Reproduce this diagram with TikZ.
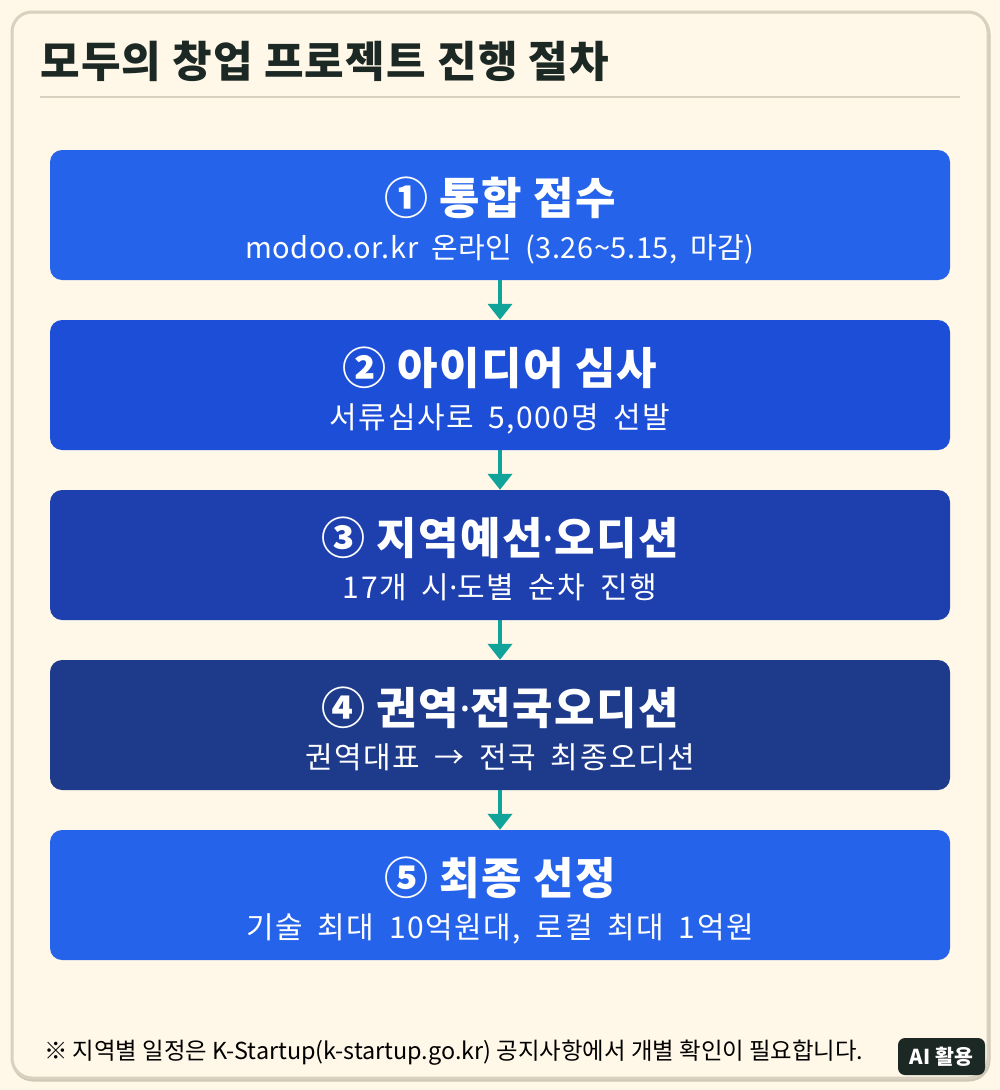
\documentclass[tikz,border=0pt]{standalone}
\usepackage{fontspec}
\setmainfont{Noto Sans CJK KR}
\newfontfamily\maintitlefont{Noto Sans CJK KR}[LetterSpace=3,WordSpace=0.8]
\newfontfamily\headfont{Noto Sans CJK KR}[LetterSpace=3,WordSpace=1.0]
\newfontfamily\subfont{Noto Sans CJK KR}[LetterSpace=5,WordSpace=1.8]
\newfontfamily\latinsubfont{Noto Sans CJK KR}[LetterSpace=2,WordSpace=1.8]
\newfontfamily\notefont{Noto Sans CJK KR}
\newfontfamily\dotfont{Noto Sans}
\newcommand{\ndot}{{\dotfont ·}}
\usetikzlibrary{arrows.meta}
\definecolor{bgc}{HTML}{FFF8E8}
\definecolor{framec}{HTML}{D9D0BF}
\definecolor{shadowc}{HTML}{CFC7B6}
\definecolor{titlec}{HTML}{1C2823}
\definecolor{bA}{HTML}{2563EB}
\definecolor{bB}{HTML}{1D4ED8}
\definecolor{bC}{HTML}{1E40AF}
\definecolor{bD}{HTML}{1E3A8A}
\definecolor{arrc}{HTML}{0FA39A}
\tikzset{
  stepbox/.style={rectangle, rounded corners=12pt, minimum width=900pt, minimum height=130pt, inner sep=0pt, draw=none},
  steptitle/.style={text=white, font=\headfont\fontsize{44}{48}\selectfont\bfseries, inner sep=0pt, anchor=base},
  stepsub/.style={text=white, font=\subfont\fontsize{30}{32}\selectfont, inner sep=0pt, anchor=base},
  flowarrow/.style={draw=arrc, line width=4pt, -{Triangle[width=24pt,length=16pt]}, shorten >=0pt},
}
\begin{document}
\begin{tikzpicture}[x=1pt,y=-1pt]
\useasboundingbox (0,0) rectangle (1000,1090);
\fill[bgc] (0,0) rectangle (1000,1090);
\draw[shadowc, line width=3pt, rounded corners=20pt] (13,14) rectangle (989,1080);
\draw[framec, line width=3pt, rounded corners=20pt, fill=bgc] (12,12) rectangle (988,1078);
\node[text=titlec, font=\maintitlefont\fontsize{43}{48}\selectfont\bfseries, anchor=base west, inner sep=0pt] (title) at (40,77) {모두의 창업 프로젝트 진행 절차};
\draw[framec, line width=2pt] (40,97) -- (960,97);

\node[stepbox, fill=bA] (b1) at (500,215) {};
\node[stepbox, fill=bB] (b2) at (500,385) {};
\node[stepbox, fill=bC] (b3) at (500,555) {};
\node[stepbox, fill=bD] (b4) at (500,725) {};
\node[stepbox, fill=bA] (b5) at (500,895) {};

\node[steptitle] (t1) at (500,214) {① 통합 접수};
\node[stepsub, font=\latinsubfont\fontsize{29}{32}\selectfont] (s1) at (500,258) {modoo.or.kr 온라인 (3.26\textasciitilde5.15, 마감)};
\node[steptitle] (t2) at (500,384) {② 아이디어 심사};
\node[stepsub] (s2) at (500,428) {서류심사로 5,000명 선발};
\node[steptitle] (t3) at (500,554) {③ 지역예선\ndot 오디션};
\node[stepsub] (s3) at (500,598) {17개 시\ndot 도별 순차 진행};
\node[steptitle] (t4) at (500,724) {④ 권역\ndot 전국오디션};
\node[stepsub] (s4) at (500,768) {권역대표 → 전국 최종오디션};
\node[steptitle] (t5) at (500,894) {⑤ 최종 선정};
\node[stepsub] (s5) at (500,938) {기술 최대 10억원대, 로컬 최대 1억원};

\draw[flowarrow] (b1.south) -- (b2.north);
\draw[flowarrow] (b2.south) -- (b3.north);
\draw[flowarrow] (b3.south) -- (b4.north);
\draw[flowarrow] (b4.south) -- (b5.north);

\node[text=black, font=\notefont\fontsize{23.4}{26}\selectfont, anchor=base west, inner sep=0pt] (note) at (44,1059) {※ 지역별 일정은 K-Startup(k-startup.go.kr) 공지사항에서 개별 확인이 필요합니다.};
\node[fill=titlec, text=white, rounded corners=7pt, font=\fontsize{20.5}{22}\selectfont\bfseries, minimum width=87pt, minimum height=37pt, inner sep=0pt] (ai) at (941.5,1056.5) {AI 활용};
\end{tikzpicture}
\end{document}
